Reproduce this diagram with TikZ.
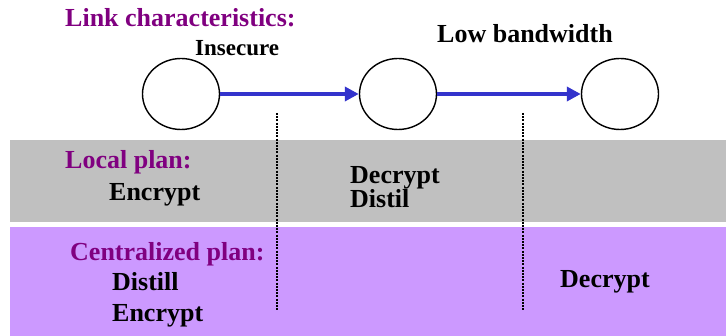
\documentclass[tikz,border=0pt]{standalone}
\usepackage{fontspec}
\setmainfont{Liberation Serif}
\usetikzlibrary{shapes.geometric,arrows.meta}
\definecolor{bandgrey}{HTML}{C0C0C0}
\definecolor{bandviolet}{HTML}{CC99FF}
\definecolor{headviolet}{HTML}{800080}
\definecolor{linkblue}{HTML}{3333CC}
\begin{document}
\begin{tikzpicture}[x=1pt,y=-1pt,
  hop/.style={ellipse,draw=black,line width=1.4pt,minimum width=77pt,minimum height=71pt,inner sep=0pt},
  link/.style={linkblue,line width=4.5pt,-{Triangle[length=14pt,width=14pt]}},
  divider/.style={black,line width=1.2pt,dash pattern=on 2pt off 1.2pt},
  head/.style={anchor=base west,inner sep=0pt,text=headviolet,font=\bfseries\fontsize{26}{26}\selectfont},
  op/.style={anchor=base west,inner sep=0pt,font=\bfseries\fontsize{26}{22}\selectfont},
  tag/.style={anchor=base west,inner sep=0pt,font=\bfseries\fontsize{23}{23}\selectfont}]
  \useasboundingbox (0,0) rectangle (726,336);

  % plan bands
  \fill[bandgrey] (10,140) rectangle (726,222);
  \fill[bandviolet] (10,227) rectangle (726,336);

  % link characteristics
  \node[head] (lchead) at (65,27) {Link characteristics:};
  \node[tag] (insecure) at (195,56) {Insecure};
  \node[op] (lowbw) at (437,43) {Low bandwidth};

  % path of hops
  \node[hop] (h1) at (181,94) {};
  \node[hop] (h2) at (398,94) {};
  \node[hop] (h3) at (620,94) {};
  \draw[link] (h1.east) -- (h2.west);
  \draw[link] (h2.east) -- (h3.west);

  % link boundaries
  \coordinate (d1top) at (277,113);
  \coordinate (d1bot) at (277,310);
  \coordinate (d2top) at (523,113);
  \coordinate (d2bot) at (523,310);
  \draw[divider] (d1top) -- (d1bot);
  \draw[divider] (d2top) -- (d2bot);

  % local plan (base anchor sits on the last line)
  \node[head] (lphead) at (65,169) {Local plan:};
  \node[op] (lenc) at (109,201) {Encrypt};
  \node[op,align=left] (ldec) at (350,208) {Decrypt\\Distil};

  % centralized plan
  \node[head] (cphead) at (70,261) {Centralized plan:};
  \node[op] (cdis) at (112,291) {Distill};
  \node[op] (cenc) at (112,322) {Encrypt};
  \node[op] (cdec) at (560,288) {Decrypt};
\end{tikzpicture}
\end{document}
